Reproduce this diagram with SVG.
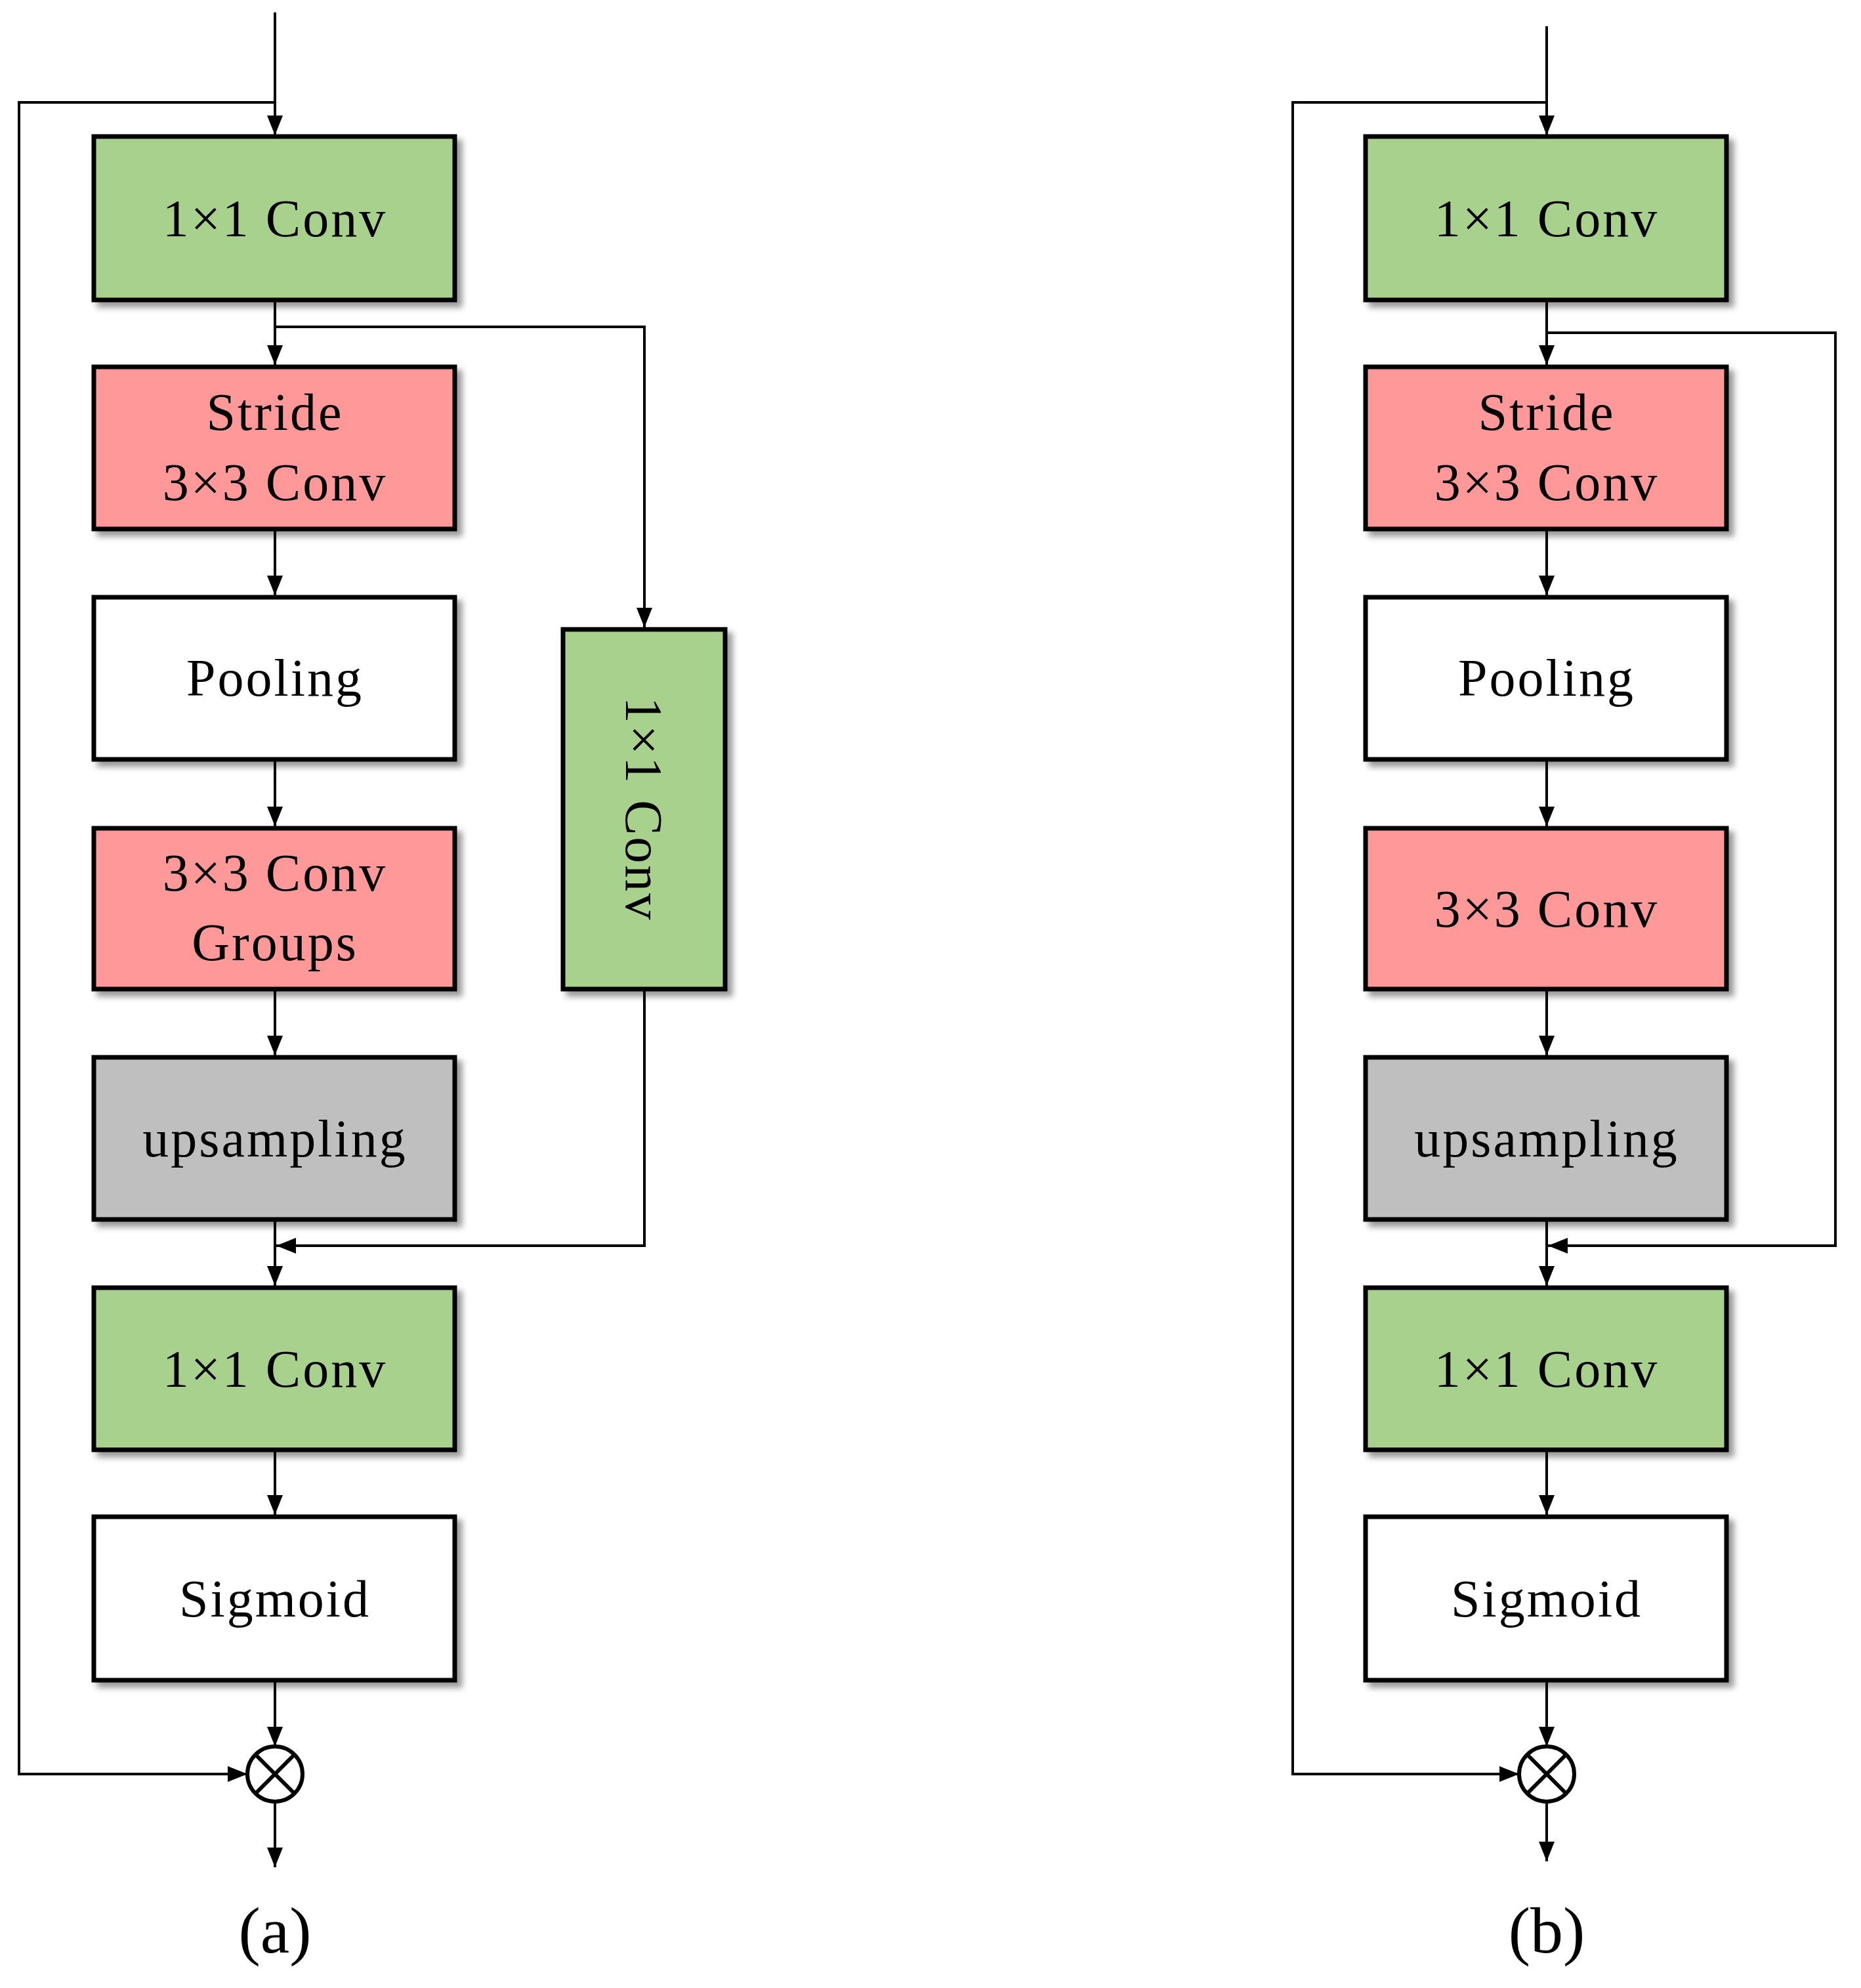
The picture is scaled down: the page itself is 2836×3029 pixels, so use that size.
<svg xmlns="http://www.w3.org/2000/svg" width="2836" height="3029" viewBox="0 0 2836 3029">
<style>
.b{stroke:#000;stroke-width:7;filter:url(#sh)}
.g{fill:#a9d18e}.r{fill:#ff9999}.w{fill:#fff}.y{fill:#bfbfbf}
text{font-family:"Liberation Serif","Times New Roman",serif;font-size:80px;text-anchor:middle;fill:#000;letter-spacing:3px}
.c path,.c line,.c polyline{stroke:#000;stroke-width:4;fill:none}
</style>
<defs>
<filter id="sh" x="-10%" y="-10%" width="130%" height="130%"><feDropShadow dx="8" dy="8" stdDeviation="5" flood-color="#000" flood-opacity="0.4"/></filter>
<marker id="a" markerUnits="userSpaceOnUse" markerWidth="30" markerHeight="30" viewBox="0 0 30 30" refX="30" refY="15" orient="auto"><path d="M0,3 L30,15 L0,27 Z" fill="#000"/></marker>
</defs>
<g class="c" id="connectors">
<polyline points="419,19 419,206" marker-end="url(#a)"/>
<polyline points="419,156 29,156 29,2703 377,2703" marker-end="url(#a)"/>
<polyline points="419,460 419,556" marker-end="url(#a)"/>
<polyline points="419,498 982,498 982,956" marker-end="url(#a)"/>
<polyline points="419,809 419,907" marker-end="url(#a)"/>
<polyline points="419,1160 419,1259" marker-end="url(#a)"/>
<polyline points="419,1510 419,1608" marker-end="url(#a)"/>
<polyline points="419,1861 419,1959" marker-end="url(#a)"/>
<polyline points="982,1510 982,1898 421,1898" marker-end="url(#a)"/>
<polyline points="419,2212 419,2308" marker-end="url(#a)"/>
<polyline points="419,2563 419,2661" marker-end="url(#a)"/>
<polyline points="419,2745 419,2845" marker-end="url(#a)"/>
<polyline points="2357,40 2357,206" marker-end="url(#a)"/>
<polyline points="2357,156 1970,156 1970,2703 2315,2703" marker-end="url(#a)"/>
<polyline points="2357,460 2357,556" marker-end="url(#a)"/>
<polyline points="2357,507 2797,507 2797,1898 2359,1898" marker-end="url(#a)"/>
<polyline points="2357,809 2357,907" marker-end="url(#a)"/>
<polyline points="2357,1160 2357,1259" marker-end="url(#a)"/>
<polyline points="2357,1510 2357,1608" marker-end="url(#a)"/>
<polyline points="2357,1861 2357,1959" marker-end="url(#a)"/>
<polyline points="2357,2212 2357,2308" marker-end="url(#a)"/>
<polyline points="2357,2563 2357,2661" marker-end="url(#a)"/>
<polyline points="2357,2745 2357,2836" marker-end="url(#a)"/>
</g>
<g id="a1"><rect class="b g" x="143" y="208" width="550" height="249"/><text x="419" y="360">1×1 Conv</text></g>
<g id="a2"><rect class="b r" x="143" y="559" width="550" height="247"/><text x="419" y="655">Stride</text><text x="419" y="762">3×3 Conv</text></g>
<g id="a3"><rect class="b w" x="143" y="910" width="550" height="247"/><text x="419" y="1060">Pooling</text></g>
<g id="a4"><rect class="b r" x="143" y="1262" width="550" height="245"/><text x="419" y="1357">3×3 Conv</text><text x="419" y="1463">Groups</text></g>
<g id="a5"><rect class="b y" x="143" y="1611" width="550" height="247"/><text x="419" y="1762">upsampling</text></g>
<g id="a6"><rect class="b g" x="143" y="1962" width="550" height="247"/><text x="419" y="2113">1×1 Conv</text></g>
<g id="a7"><rect class="b w" x="143" y="2311" width="550" height="249"/><text x="419" y="2463">Sigmoid</text></g>
<g id="a8"><rect class="b g" x="858" y="959" width="247" height="548"/><text transform="translate(982,1233) rotate(90)" y="28">1×1 Conv</text></g>
<g id="a9"><circle cx="419" cy="2703" r="42" fill="#fff" stroke="#000" stroke-width="6"/><path d="M389,2673 L449,2733 M449,2673 L389,2733" stroke="#000" stroke-width="6"/></g>
<text x="419" y="2975" style="font-size:100px;letter-spacing:0">(a)</text>
<g id="b1"><rect class="b g" x="2081" y="208" width="550" height="249"/><text x="2357" y="360">1×1 Conv</text></g>
<g id="b2"><rect class="b r" x="2081" y="559" width="550" height="247"/><text x="2357" y="655">Stride</text><text x="2357" y="762">3×3 Conv</text></g>
<g id="b3"><rect class="b w" x="2081" y="910" width="550" height="247"/><text x="2357" y="1060">Pooling</text></g>
<g id="b4"><rect class="b r" x="2081" y="1262" width="550" height="245"/><text x="2357" y="1412">3×3 Conv</text></g>
<g id="b5"><rect class="b y" x="2081" y="1611" width="550" height="247"/><text x="2357" y="1762">upsampling</text></g>
<g id="b6"><rect class="b g" x="2081" y="1962" width="550" height="247"/><text x="2357" y="2113">1×1 Conv</text></g>
<g id="b7"><rect class="b w" x="2081" y="2311" width="550" height="249"/><text x="2357" y="2463">Sigmoid</text></g>
<g id="b8"><circle cx="2357" cy="2703" r="42" fill="#fff" stroke="#000" stroke-width="6"/><path d="M2327,2673 L2387,2733 M2387,2673 L2327,2733" stroke="#000" stroke-width="6"/></g>
<text x="2357" y="2975" style="font-size:100px;letter-spacing:0">(b)</text>
</svg>
